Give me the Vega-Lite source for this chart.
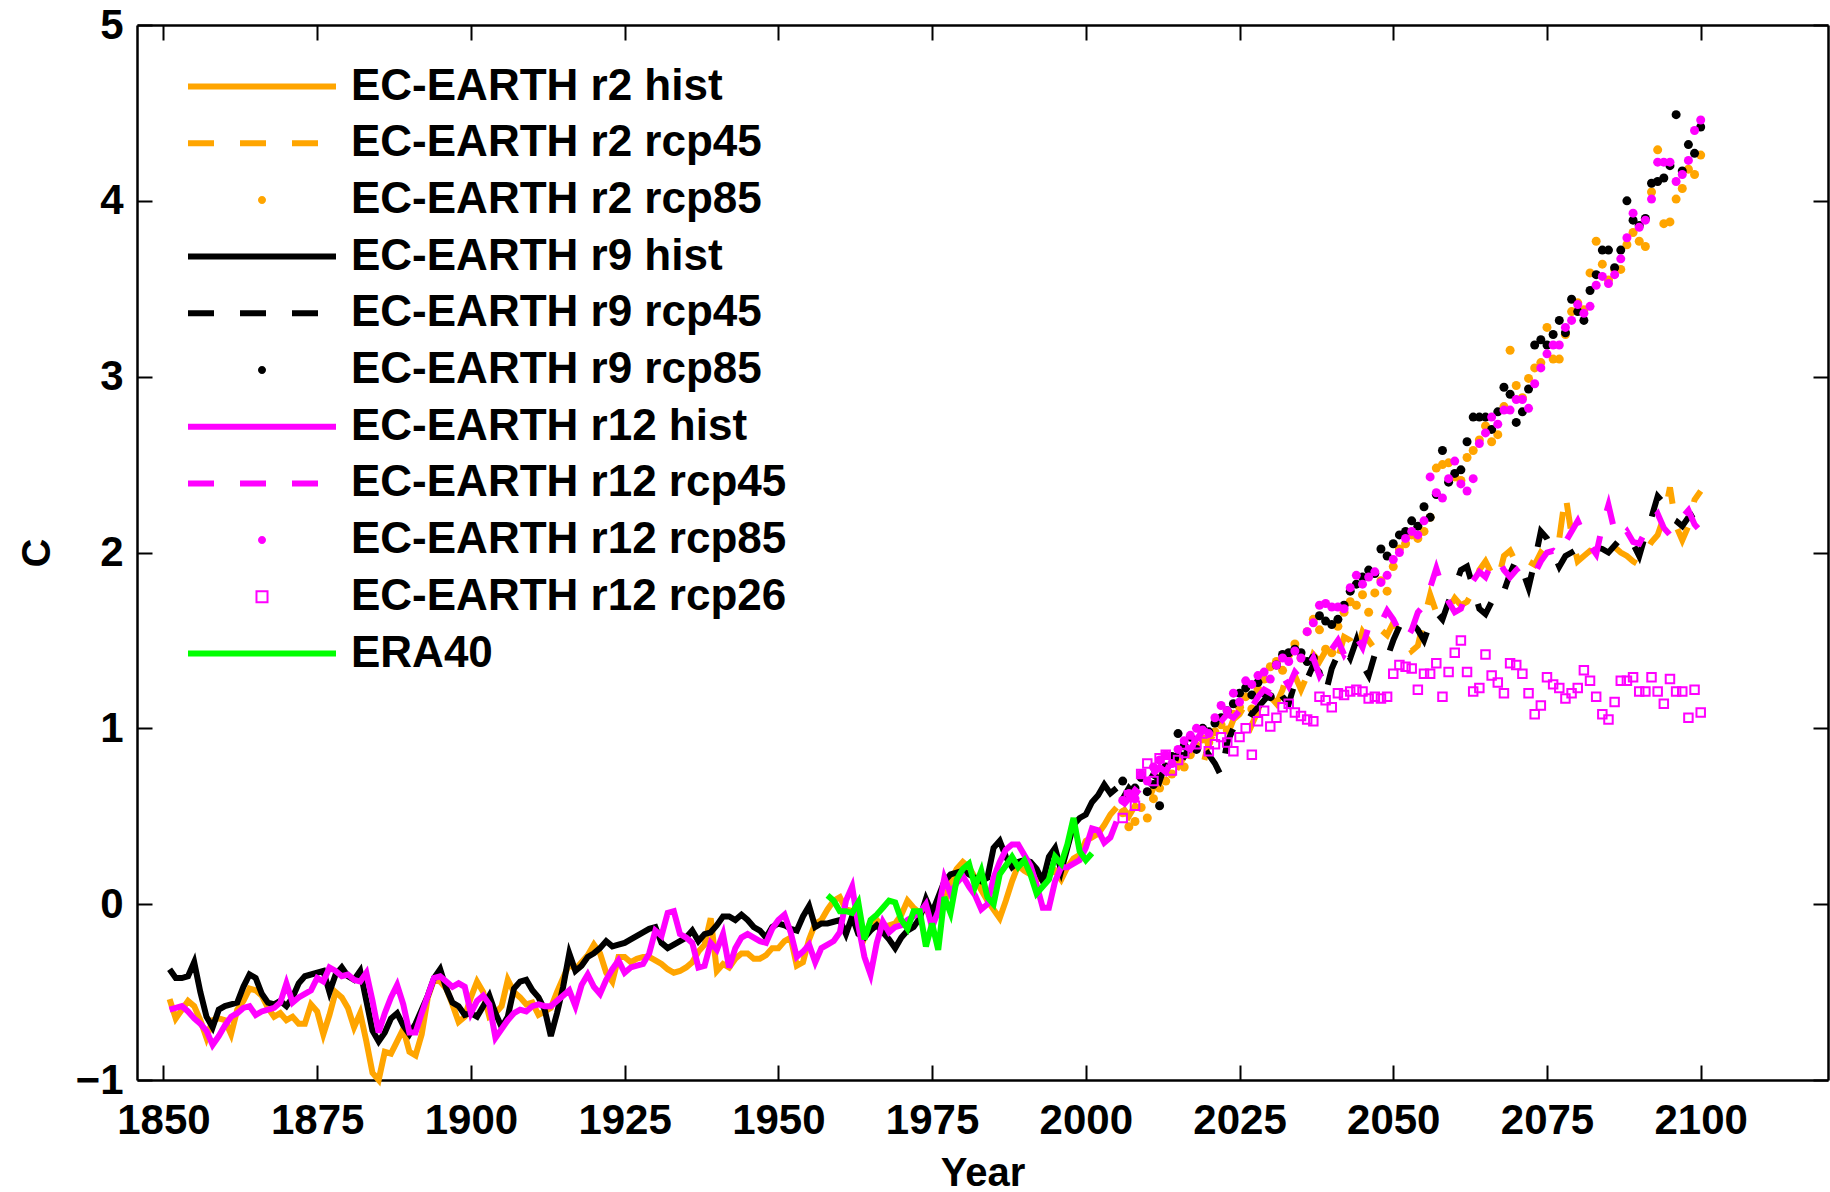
{
"$schema":"https://vega.github.io/schema/vega-lite/v6.json",
"width":1691,"height":1055,
"autosize":{"type":"none"},
"padding":{"left":137,"top":25,"right":2,"bottom":112},
"background":"white",
"config":{"view":{"stroke":null},"font":"Liberation Sans",
"axis":{"grid":false,"domainColor":"#000","domainWidth":2.5,"tickColor":"#000","tickWidth":2,"tickSize":-15,"labelFont":"Liberation Sans","labelFontSize":42,"labelFontWeight":"bold","labelColor":"#000","labelFlush":false,"labelOverlap":false,"titleFont":"Liberation Sans","titleFontSize":40,"titleFontWeight":"bold","titleColor":"#000"}},
"datasets":{
"r2hist":[{"year":1851,"c":-0.54},{"year":1852,"c":-0.65},{"year":1853,"c":-0.60},{"year":1854,"c":-0.55},{"year":1855,"c":-0.58},{"year":1856,"c":-0.66},{"year":1857,"c":-0.76},{"year":1858,"c":-0.66},{"year":1859,"c":-0.65},{"year":1860,"c":-0.66},{"year":1861,"c":-0.74},{"year":1862,"c":-0.60},{"year":1863,"c":-0.55},{"year":1864,"c":-0.48},{"year":1865,"c":-0.49},{"year":1866,"c":-0.52},{"year":1867,"c":-0.59},{"year":1868,"c":-0.64},{"year":1869,"c":-0.62},{"year":1870,"c":-0.66},{"year":1871,"c":-0.64},{"year":1872,"c":-0.68},{"year":1873,"c":-0.68},{"year":1874,"c":-0.57},{"year":1875,"c":-0.61},{"year":1876,"c":-0.74},{"year":1877,"c":-0.63},{"year":1878,"c":-0.50},{"year":1879,"c":-0.53},{"year":1880,"c":-0.59},{"year":1881,"c":-0.70},{"year":1882,"c":-0.62},{"year":1883,"c":-0.78},{"year":1884,"c":-0.96},{"year":1885,"c":-1.00},{"year":1886,"c":-0.84},{"year":1887,"c":-0.85},{"year":1888,"c":-0.78},{"year":1889,"c":-0.71},{"year":1890,"c":-0.84},{"year":1891,"c":-0.86},{"year":1892,"c":-0.74},{"year":1893,"c":-0.53},{"year":1894,"c":-0.43},{"year":1895,"c":-0.44},{"year":1896,"c":-0.48},{"year":1897,"c":-0.57},{"year":1898,"c":-0.67},{"year":1899,"c":-0.64},{"year":1900,"c":-0.53},{"year":1901,"c":-0.44},{"year":1902,"c":-0.50},{"year":1903,"c":-0.64},{"year":1904,"c":-0.62},{"year":1905,"c":-0.58},{"year":1906,"c":-0.43},{"year":1907,"c":-0.50},{"year":1908,"c":-0.53},{"year":1909,"c":-0.57},{"year":1910,"c":-0.56},{"year":1911,"c":-0.63},{"year":1912,"c":-0.61},{"year":1913,"c":-0.59},{"year":1914,"c":-0.50},{"year":1915,"c":-0.42},{"year":1916,"c":-0.34},{"year":1917,"c":-0.37},{"year":1918,"c":-0.33},{"year":1919,"c":-0.29},{"year":1920,"c":-0.23},{"year":1921,"c":-0.28},{"year":1922,"c":-0.39},{"year":1923,"c":-0.44},{"year":1924,"c":-0.30},{"year":1925,"c":-0.30},{"year":1926,"c":-0.33},{"year":1927,"c":-0.31},{"year":1928,"c":-0.30},{"year":1929,"c":-0.30},{"year":1930,"c":-0.32},{"year":1931,"c":-0.34},{"year":1932,"c":-0.37},{"year":1933,"c":-0.39},{"year":1934,"c":-0.38},{"year":1935,"c":-0.36},{"year":1936,"c":-0.33},{"year":1937,"c":-0.27},{"year":1938,"c":-0.23},{"year":1939,"c":-0.08},{"year":1940,"c":-0.38},{"year":1941,"c":-0.34},{"year":1942,"c":-0.36},{"year":1943,"c":-0.31},{"year":1944,"c":-0.28},{"year":1945,"c":-0.28},{"year":1946,"c":-0.31},{"year":1947,"c":-0.31},{"year":1948,"c":-0.29},{"year":1949,"c":-0.25},{"year":1950,"c":-0.25},{"year":1951,"c":-0.21},{"year":1952,"c":-0.19},{"year":1953,"c":-0.35},{"year":1954,"c":-0.33},{"year":1955,"c":-0.20},{"year":1956,"c":-0.11},{"year":1957,"c":-0.09},{"year":1958,"c":-0.03},{"year":1959,"c":0.02},{"year":1960,"c":0.04},{"year":1961,"c":-0.03},{"year":1962,"c":-0.04},{"year":1963,"c":-0.09},{"year":1964,"c":-0.19},{"year":1965,"c":-0.10},{"year":1966,"c":-0.09},{"year":1967,"c":-0.13},{"year":1968,"c":-0.12},{"year":1969,"c":-0.11},{"year":1970,"c":-0.06},{"year":1971,"c":0.02},{"year":1972,"c":-0.02},{"year":1973,"c":-0.05},{"year":1974,"c":-0.02},{"year":1975,"c":-0.10},{"year":1976,"c":-0.05},{"year":1977,"c":0.00},{"year":1978,"c":0.13},{"year":1979,"c":0.20},{"year":1980,"c":0.24},{"year":1981,"c":0.21},{"year":1982,"c":0.15},{"year":1983,"c":0.08},{"year":1984,"c":0.02},{"year":1985,"c":-0.03},{"year":1986,"c":-0.08},{"year":1987,"c":0.02},{"year":1988,"c":0.13},{"year":1989,"c":0.22},{"year":1990,"c":0.19},{"year":1991,"c":0.17},{"year":1992,"c":0.14},{"year":1993,"c":0.15},{"year":1994,"c":0.17},{"year":1995,"c":0.19},{"year":1996,"c":0.14},{"year":1997,"c":0.21},{"year":1998,"c":0.26},{"year":1999,"c":0.28},{"year":2000,"c":0.36},{"year":2001,"c":0.38},{"year":2002,"c":0.40},{"year":2003,"c":0.45},{"year":2004,"c":0.51},{"year":2005,"c":0.55}],
"r9hist":[{"year":1851,"c":-0.37},{"year":1852,"c":-0.42},{"year":1853,"c":-0.42},{"year":1854,"c":-0.41},{"year":1855,"c":-0.33},{"year":1856,"c":-0.50},{"year":1857,"c":-0.64},{"year":1858,"c":-0.70},{"year":1859,"c":-0.60},{"year":1860,"c":-0.58},{"year":1861,"c":-0.57},{"year":1862,"c":-0.56},{"year":1863,"c":-0.47},{"year":1864,"c":-0.40},{"year":1865,"c":-0.42},{"year":1866,"c":-0.51},{"year":1867,"c":-0.56},{"year":1868,"c":-0.57},{"year":1869,"c":-0.55},{"year":1870,"c":-0.58},{"year":1871,"c":-0.53},{"year":1872,"c":-0.45},{"year":1873,"c":-0.41},{"year":1874,"c":-0.40},{"year":1875,"c":-0.39},{"year":1876,"c":-0.38},{"year":1877,"c":-0.50},{"year":1878,"c":-0.40},{"year":1879,"c":-0.36},{"year":1880,"c":-0.41},{"year":1881,"c":-0.43},{"year":1882,"c":-0.38},{"year":1883,"c":-0.55},{"year":1884,"c":-0.72},{"year":1885,"c":-0.78},{"year":1886,"c":-0.73},{"year":1887,"c":-0.65},{"year":1888,"c":-0.62},{"year":1889,"c":-0.69},{"year":1890,"c":-0.74},{"year":1891,"c":-0.68},{"year":1892,"c":-0.60},{"year":1893,"c":-0.52},{"year":1894,"c":-0.42},{"year":1895,"c":-0.37},{"year":1896,"c":-0.48},{"year":1897,"c":-0.56},{"year":1898,"c":-0.58},{"year":1899,"c":-0.63},{"year":1900,"c":-0.62},{"year":1901,"c":-0.64},{"year":1902,"c":-0.58},{"year":1903,"c":-0.52},{"year":1904,"c":-0.62},{"year":1905,"c":-0.70},{"year":1906,"c":-0.64},{"year":1907,"c":-0.48},{"year":1908,"c":-0.44},{"year":1909,"c":-0.43},{"year":1910,"c":-0.49},{"year":1911,"c":-0.53},{"year":1912,"c":-0.60},{"year":1913,"c":-0.75},{"year":1914,"c":-0.62},{"year":1915,"c":-0.47},{"year":1916,"c":-0.28},{"year":1917,"c":-0.38},{"year":1918,"c":-0.35},{"year":1919,"c":-0.30},{"year":1920,"c":-0.28},{"year":1921,"c":-0.25},{"year":1922,"c":-0.21},{"year":1923,"c":-0.24},{"year":1924,"c":-0.23},{"year":1925,"c":-0.22},{"year":1926,"c":-0.20},{"year":1927,"c":-0.18},{"year":1928,"c":-0.16},{"year":1929,"c":-0.14},{"year":1930,"c":-0.13},{"year":1931,"c":-0.22},{"year":1932,"c":-0.25},{"year":1933,"c":-0.23},{"year":1934,"c":-0.21},{"year":1935,"c":-0.19},{"year":1936,"c":-0.15},{"year":1937,"c":-0.21},{"year":1938,"c":-0.17},{"year":1939,"c":-0.16},{"year":1940,"c":-0.12},{"year":1941,"c":-0.07},{"year":1942,"c":-0.07},{"year":1943,"c":-0.09},{"year":1944,"c":-0.06},{"year":1945,"c":-0.09},{"year":1946,"c":-0.13},{"year":1947,"c":-0.15},{"year":1948,"c":-0.19},{"year":1949,"c":-0.13},{"year":1950,"c":-0.11},{"year":1951,"c":-0.12},{"year":1952,"c":-0.14},{"year":1953,"c":-0.15},{"year":1954,"c":-0.07},{"year":1955,"c":-0.01},{"year":1956,"c":-0.13},{"year":1957,"c":-0.11},{"year":1958,"c":-0.11},{"year":1959,"c":-0.10},{"year":1960,"c":-0.09},{"year":1961,"c":-0.17},{"year":1962,"c":-0.07},{"year":1963,"c":-0.17},{"year":1964,"c":-0.19},{"year":1965,"c":-0.15},{"year":1966,"c":-0.12},{"year":1967,"c":-0.16},{"year":1968,"c":-0.20},{"year":1969,"c":-0.25},{"year":1970,"c":-0.19},{"year":1971,"c":-0.15},{"year":1972,"c":-0.13},{"year":1973,"c":-0.08},{"year":1974,"c":0.03},{"year":1975,"c":-0.05},{"year":1976,"c":0.04},{"year":1977,"c":0.13},{"year":1978,"c":0.17},{"year":1979,"c":0.18},{"year":1980,"c":0.19},{"year":1981,"c":0.17},{"year":1982,"c":0.15},{"year":1983,"c":0.13},{"year":1984,"c":0.15},{"year":1985,"c":0.32},{"year":1986,"c":0.36},{"year":1987,"c":0.27},{"year":1988,"c":0.21},{"year":1989,"c":0.24},{"year":1990,"c":0.25},{"year":1991,"c":0.24},{"year":1992,"c":0.20},{"year":1993,"c":0.13},{"year":1994,"c":0.27},{"year":1995,"c":0.32},{"year":1996,"c":0.19},{"year":1997,"c":0.32},{"year":1998,"c":0.45},{"year":1999,"c":0.49},{"year":2000,"c":0.51},{"year":2001,"c":0.58},{"year":2002,"c":0.62},{"year":2003,"c":0.68},{"year":2004,"c":0.63},{"year":2005,"c":0.66}],
"r12hist":[{"year":1851,"c":-0.60},{"year":1852,"c":-0.59},{"year":1853,"c":-0.58},{"year":1854,"c":-0.61},{"year":1855,"c":-0.65},{"year":1856,"c":-0.68},{"year":1857,"c":-0.72},{"year":1858,"c":-0.80},{"year":1859,"c":-0.75},{"year":1860,"c":-0.69},{"year":1861,"c":-0.64},{"year":1862,"c":-0.62},{"year":1863,"c":-0.59},{"year":1864,"c":-0.58},{"year":1865,"c":-0.63},{"year":1866,"c":-0.61},{"year":1867,"c":-0.60},{"year":1868,"c":-0.59},{"year":1869,"c":-0.56},{"year":1870,"c":-0.45},{"year":1871,"c":-0.56},{"year":1872,"c":-0.53},{"year":1873,"c":-0.51},{"year":1874,"c":-0.49},{"year":1875,"c":-0.42},{"year":1876,"c":-0.44},{"year":1877,"c":-0.36},{"year":1878,"c":-0.38},{"year":1879,"c":-0.41},{"year":1880,"c":-0.40},{"year":1881,"c":-0.43},{"year":1882,"c":-0.44},{"year":1883,"c":-0.39},{"year":1884,"c":-0.55},{"year":1885,"c":-0.73},{"year":1886,"c":-0.62},{"year":1887,"c":-0.53},{"year":1888,"c":-0.46},{"year":1889,"c":-0.57},{"year":1890,"c":-0.73},{"year":1891,"c":-0.73},{"year":1892,"c":-0.62},{"year":1893,"c":-0.52},{"year":1894,"c":-0.42},{"year":1895,"c":-0.41},{"year":1896,"c":-0.44},{"year":1897,"c":-0.47},{"year":1898,"c":-0.45},{"year":1899,"c":-0.47},{"year":1900,"c":-0.62},{"year":1901,"c":-0.55},{"year":1902,"c":-0.52},{"year":1903,"c":-0.57},{"year":1904,"c":-0.76},{"year":1905,"c":-0.71},{"year":1906,"c":-0.66},{"year":1907,"c":-0.62},{"year":1908,"c":-0.60},{"year":1909,"c":-0.61},{"year":1910,"c":-0.58},{"year":1911,"c":-0.57},{"year":1912,"c":-0.58},{"year":1913,"c":-0.58},{"year":1914,"c":-0.55},{"year":1915,"c":-0.52},{"year":1916,"c":-0.49},{"year":1917,"c":-0.58},{"year":1918,"c":-0.46},{"year":1919,"c":-0.40},{"year":1920,"c":-0.47},{"year":1921,"c":-0.51},{"year":1922,"c":-0.43},{"year":1923,"c":-0.37},{"year":1924,"c":-0.32},{"year":1925,"c":-0.39},{"year":1926,"c":-0.36},{"year":1927,"c":-0.35},{"year":1928,"c":-0.34},{"year":1929,"c":-0.28},{"year":1930,"c":-0.15},{"year":1931,"c":-0.18},{"year":1932,"c":-0.05},{"year":1933,"c":-0.04},{"year":1934,"c":-0.17},{"year":1935,"c":-0.19},{"year":1936,"c":-0.22},{"year":1937,"c":-0.36},{"year":1938,"c":-0.35},{"year":1939,"c":-0.22},{"year":1940,"c":-0.26},{"year":1941,"c":-0.17},{"year":1942,"c":-0.36},{"year":1943,"c":-0.25},{"year":1944,"c":-0.19},{"year":1945,"c":-0.17},{"year":1946,"c":-0.19},{"year":1947,"c":-0.21},{"year":1948,"c":-0.22},{"year":1949,"c":-0.14},{"year":1950,"c":-0.09},{"year":1951,"c":-0.06},{"year":1952,"c":-0.16},{"year":1953,"c":-0.30},{"year":1954,"c":-0.27},{"year":1955,"c":-0.23},{"year":1956,"c":-0.33},{"year":1957,"c":-0.25},{"year":1958,"c":-0.23},{"year":1959,"c":-0.21},{"year":1960,"c":-0.16},{"year":1961,"c":0.02},{"year":1962,"c":0.10},{"year":1963,"c":-0.12},{"year":1964,"c":-0.30},{"year":1965,"c":-0.40},{"year":1966,"c":-0.22},{"year":1967,"c":-0.10},{"year":1968,"c":-0.16},{"year":1969,"c":-0.13},{"year":1970,"c":-0.12},{"year":1971,"c":-0.09},{"year":1972,"c":-0.07},{"year":1973,"c":-0.05},{"year":1974,"c":0.00},{"year":1975,"c":-0.13},{"year":1976,"c":-0.04},{"year":1977,"c":0.15},{"year":1978,"c":0.06},{"year":1979,"c":0.12},{"year":1980,"c":0.16},{"year":1981,"c":0.10},{"year":1982,"c":0.05},{"year":1983,"c":-0.03},{"year":1984,"c":0.00},{"year":1985,"c":0.15},{"year":1986,"c":0.24},{"year":1987,"c":0.31},{"year":1988,"c":0.34},{"year":1989,"c":0.34},{"year":1990,"c":0.28},{"year":1991,"c":0.22},{"year":1992,"c":0.11},{"year":1993,"c":-0.02},{"year":1994,"c":-0.02},{"year":1995,"c":0.13},{"year":1996,"c":0.21},{"year":1997,"c":0.21},{"year":1998,"c":0.23},{"year":1999,"c":0.25},{"year":2000,"c":0.32},{"year":2001,"c":0.43},{"year":2002,"c":0.42},{"year":2003,"c":0.35},{"year":2004,"c":0.38},{"year":2005,"c":0.47}],
"era40":[{"year":1958,"c":0.05},{"year":1959,"c":0.02},{"year":1960,"c":-0.04},{"year":1961,"c":-0.04},{"year":1962,"c":-0.05},{"year":1963,"c":0.01},{"year":1964,"c":-0.20},{"year":1965,"c":-0.09},{"year":1966,"c":-0.06},{"year":1967,"c":-0.02},{"year":1968,"c":0.02},{"year":1969,"c":0.01},{"year":1970,"c":-0.09},{"year":1971,"c":-0.14},{"year":1972,"c":-0.04},{"year":1973,"c":-0.04},{"year":1974,"c":-0.24},{"year":1975,"c":-0.11},{"year":1976,"c":-0.26},{"year":1977,"c":0.04},{"year":1978,"c":-0.05},{"year":1979,"c":0.14},{"year":1980,"c":0.20},{"year":1981,"c":0.23},{"year":1982,"c":0.10},{"year":1983,"c":0.19},{"year":1984,"c":0.04},{"year":1985,"c":0.00},{"year":1986,"c":0.17},{"year":1987,"c":0.22},{"year":1988,"c":0.27},{"year":1989,"c":0.21},{"year":1990,"c":0.25},{"year":1991,"c":0.17},{"year":1992,"c":0.06},{"year":1993,"c":0.10},{"year":1994,"c":0.14},{"year":1995,"c":0.27},{"year":1996,"c":0.23},{"year":1997,"c":0.34},{"year":1998,"c":0.49},{"year":1999,"c":0.30},{"year":2000,"c":0.25},{"year":2001,"c":0.29}],
"r2rcp45":[{"year":2006,"c":0.55},{"year":2007,"c":0.50},{"year":2008,"c":0.56},{"year":2009,"c":0.62},{"year":2010,"c":0.58},{"year":2011,"c":0.66},{"year":2012,"c":0.72},{"year":2013,"c":0.70},{"year":2014,"c":0.80},{"year":2015,"c":0.78},{"year":2016,"c":0.84},{"year":2017,"c":0.88},{"year":2018,"c":0.80},{"year":2019,"c":0.78},{"year":2020,"c":0.92},{"year":2021,"c":0.98},{"year":2022,"c":1.00},{"year":2023,"c":0.96},{"year":2024,"c":1.05},{"year":2025,"c":1.08},{"year":2026,"c":1.14},{"year":2027,"c":1.02},{"year":2028,"c":1.10},{"year":2029,"c":1.22},{"year":2030,"c":1.18},{"year":2031,"c":1.14},{"year":2032,"c":1.22},{"year":2033,"c":1.34},{"year":2034,"c":1.30},{"year":2035,"c":1.22},{"year":2036,"c":1.30},{"year":2037,"c":1.42},{"year":2038,"c":1.38},{"year":2039,"c":1.44},{"year":2040,"c":1.48},{"year":2041,"c":1.40},{"year":2042,"c":1.52},{"year":2043,"c":1.50},{"year":2044,"c":1.43},{"year":2045,"c":1.55},{"year":2046,"c":1.50},{"year":2047,"c":1.45},{"year":2048,"c":1.56},{"year":2049,"c":1.53},{"year":2050,"c":1.60},{"year":2051,"c":1.55},{"year":2052,"c":1.50},{"year":2053,"c":1.44},{"year":2054,"c":1.47},{"year":2055,"c":1.62},{"year":2056,"c":1.76},{"year":2057,"c":1.66},{"year":2058,"c":1.70},{"year":2059,"c":1.68},{"year":2060,"c":1.74},{"year":2061,"c":1.70},{"year":2062,"c":1.72},{"year":2063,"c":1.78},{"year":2064,"c":1.90},{"year":2065,"c":1.95},{"year":2066,"c":1.88},{"year":2067,"c":1.84},{"year":2068,"c":1.98},{"year":2069,"c":2.01},{"year":2070,"c":1.94},{"year":2071,"c":1.98},{"year":2072,"c":1.95},{"year":2073,"c":1.93},{"year":2074,"c":2.00},{"year":2075,"c":1.97},{"year":2076,"c":2.05},{"year":2077,"c":2.08},{"year":2078,"c":2.33},{"year":2079,"c":2.10},{"year":2080,"c":1.95},{"year":2081,"c":1.98},{"year":2082,"c":2.01},{"year":2083,"c":2.00},{"year":2084,"c":2.02},{"year":2085,"c":2.04},{"year":2086,"c":2.03},{"year":2087,"c":2.00},{"year":2088,"c":1.98},{"year":2089,"c":1.95},{"year":2090,"c":1.93},{"year":2091,"c":2.00},{"year":2092,"c":2.06},{"year":2093,"c":2.10},{"year":2094,"c":2.20},{"year":2095,"c":2.37},{"year":2096,"c":2.15},{"year":2097,"c":2.07},{"year":2098,"c":2.15},{"year":2099,"c":2.30},{"year":2100,"c":2.35}],
"r9rcp45":[{"year":2006,"c":0.60},{"year":2007,"c":0.66},{"year":2008,"c":0.62},{"year":2009,"c":0.70},{"year":2010,"c":0.68},{"year":2011,"c":0.74},{"year":2012,"c":0.70},{"year":2013,"c":0.80},{"year":2014,"c":0.76},{"year":2015,"c":0.86},{"year":2016,"c":0.84},{"year":2017,"c":0.90},{"year":2018,"c":0.94},{"year":2019,"c":0.90},{"year":2020,"c":0.85},{"year":2021,"c":0.80},{"year":2022,"c":0.73},{"year":2023,"c":0.92},{"year":2024,"c":1.00},{"year":2025,"c":1.06},{"year":2026,"c":1.10},{"year":2027,"c":1.08},{"year":2028,"c":1.12},{"year":2029,"c":1.16},{"year":2030,"c":1.20},{"year":2031,"c":1.24},{"year":2032,"c":1.18},{"year":2033,"c":1.14},{"year":2034,"c":1.26},{"year":2035,"c":1.30},{"year":2036,"c":1.28},{"year":2037,"c":1.36},{"year":2038,"c":1.32},{"year":2039,"c":1.20},{"year":2040,"c":1.34},{"year":2041,"c":1.42},{"year":2042,"c":1.46},{"year":2043,"c":1.40},{"year":2044,"c":1.50},{"year":2045,"c":1.36},{"year":2046,"c":1.30},{"year":2047,"c":1.42},{"year":2048,"c":1.44},{"year":2049,"c":1.40},{"year":2050,"c":1.50},{"year":2051,"c":1.58},{"year":2052,"c":1.64},{"year":2053,"c":1.60},{"year":2054,"c":1.56},{"year":2055,"c":1.50},{"year":2056,"c":1.60},{"year":2057,"c":1.66},{"year":2058,"c":1.62},{"year":2059,"c":1.72},{"year":2060,"c":1.80},{"year":2061,"c":1.90},{"year":2062,"c":1.92},{"year":2063,"c":1.80},{"year":2064,"c":1.68},{"year":2065,"c":1.65},{"year":2066,"c":1.72},{"year":2067,"c":1.70},{"year":2068,"c":1.78},{"year":2069,"c":1.88},{"year":2070,"c":1.96},{"year":2071,"c":1.90},{"year":2072,"c":1.80},{"year":2073,"c":1.95},{"year":2074,"c":2.12},{"year":2075,"c":2.08},{"year":2076,"c":2.00},{"year":2077,"c":1.92},{"year":2078,"c":1.98},{"year":2079,"c":2.00},{"year":2080,"c":2.02},{"year":2081,"c":2.04},{"year":2082,"c":2.05},{"year":2083,"c":2.03},{"year":2084,"c":2.02},{"year":2085,"c":2.00},{"year":2086,"c":2.04},{"year":2087,"c":2.08},{"year":2088,"c":2.10},{"year":2089,"c":2.05},{"year":2090,"c":1.98},{"year":2091,"c":2.10},{"year":2092,"c":2.20},{"year":2093,"c":2.32},{"year":2094,"c":2.28},{"year":2095,"c":2.20},{"year":2096,"c":2.18},{"year":2097,"c":2.15},{"year":2098,"c":2.20},{"year":2099,"c":2.22},{"year":2100,"c":2.24}],
"r12rcp45":[{"year":2006,"c":0.56},{"year":2007,"c":0.60},{"year":2008,"c":0.65},{"year":2009,"c":0.62},{"year":2010,"c":0.70},{"year":2011,"c":0.74},{"year":2012,"c":0.78},{"year":2013,"c":0.75},{"year":2014,"c":0.82},{"year":2015,"c":0.86},{"year":2016,"c":0.90},{"year":2017,"c":0.88},{"year":2018,"c":0.94},{"year":2019,"c":0.98},{"year":2020,"c":1.02},{"year":2021,"c":1.00},{"year":2022,"c":1.04},{"year":2023,"c":1.08},{"year":2024,"c":1.06},{"year":2025,"c":1.10},{"year":2026,"c":1.16},{"year":2027,"c":1.12},{"year":2028,"c":1.18},{"year":2029,"c":1.22},{"year":2030,"c":1.20},{"year":2031,"c":1.26},{"year":2032,"c":1.30},{"year":2033,"c":1.24},{"year":2034,"c":1.32},{"year":2035,"c":1.28},{"year":2036,"c":1.34},{"year":2037,"c":1.40},{"year":2038,"c":1.30},{"year":2039,"c":1.36},{"year":2040,"c":1.45},{"year":2041,"c":1.50},{"year":2042,"c":1.42},{"year":2043,"c":1.48},{"year":2044,"c":1.52},{"year":2045,"c":1.46},{"year":2046,"c":1.58},{"year":2047,"c":1.62},{"year":2048,"c":1.60},{"year":2049,"c":1.67},{"year":2050,"c":1.62},{"year":2051,"c":1.55},{"year":2052,"c":1.50},{"year":2053,"c":1.56},{"year":2054,"c":1.66},{"year":2055,"c":1.70},{"year":2056,"c":1.80},{"year":2057,"c":1.91},{"year":2058,"c":1.80},{"year":2059,"c":1.72},{"year":2060,"c":1.66},{"year":2061,"c":1.68},{"year":2062,"c":1.78},{"year":2063,"c":1.84},{"year":2064,"c":1.89},{"year":2065,"c":1.86},{"year":2066,"c":1.94},{"year":2067,"c":1.97},{"year":2068,"c":1.90},{"year":2069,"c":1.86},{"year":2070,"c":1.90},{"year":2071,"c":1.93},{"year":2072,"c":1.92},{"year":2073,"c":1.88},{"year":2074,"c":1.95},{"year":2075,"c":2.00},{"year":2076,"c":2.01},{"year":2077,"c":1.98},{"year":2078,"c":2.06},{"year":2079,"c":2.12},{"year":2080,"c":2.18},{"year":2081,"c":2.10},{"year":2082,"c":2.04},{"year":2083,"c":1.99},{"year":2084,"c":2.15},{"year":2085,"c":2.27},{"year":2086,"c":2.12},{"year":2087,"c":2.08},{"year":2088,"c":2.12},{"year":2089,"c":2.06},{"year":2090,"c":2.05},{"year":2091,"c":2.12},{"year":2092,"c":2.18},{"year":2093,"c":2.22},{"year":2094,"c":2.14},{"year":2095,"c":2.10},{"year":2096,"c":2.15},{"year":2097,"c":2.20},{"year":2098,"c":2.24},{"year":2099,"c":2.16},{"year":2100,"c":2.12}],
"r2rcp85":[{"year":2006,"c":0.52},{"year":2007,"c":0.44},{"year":2008,"c":0.47},{"year":2009,"c":0.55},{"year":2010,"c":0.49},{"year":2011,"c":0.60},{"year":2012,"c":0.66},{"year":2013,"c":0.70},{"year":2014,"c":0.74},{"year":2015,"c":0.80},{"year":2016,"c":0.78},{"year":2017,"c":0.85},{"year":2018,"c":0.90},{"year":2019,"c":0.94},{"year":2020,"c":0.92},{"year":2021,"c":0.98},{"year":2022,"c":1.02},{"year":2023,"c":0.99},{"year":2024,"c":1.08},{"year":2025,"c":1.12},{"year":2026,"c":1.18},{"year":2027,"c":1.11},{"year":2028,"c":1.22},{"year":2029,"c":1.28},{"year":2030,"c":1.35},{"year":2031,"c":1.38},{"year":2032,"c":1.33},{"year":2033,"c":1.42},{"year":2034,"c":1.48},{"year":2035,"c":1.40},{"year":2036,"c":1.55},{"year":2037,"c":1.62},{"year":2038,"c":1.56},{"year":2039,"c":1.45},{"year":2040,"c":1.43},{"year":2041,"c":1.58},{"year":2042,"c":1.66},{"year":2043,"c":1.72},{"year":2044,"c":1.70},{"year":2045,"c":1.76},{"year":2046,"c":1.66},{"year":2047,"c":1.77},{"year":2048,"c":1.84},{"year":2049,"c":1.78},{"year":2050,"c":1.92},{"year":2051,"c":2.02},{"year":2052,"c":2.05},{"year":2053,"c":2.10},{"year":2054,"c":2.08},{"year":2055,"c":2.12},{"year":2056,"c":2.20},{"year":2057,"c":2.48},{"year":2058,"c":2.50},{"year":2059,"c":2.51},{"year":2060,"c":2.43},{"year":2061,"c":2.41},{"year":2062,"c":2.54},{"year":2063,"c":2.58},{"year":2064,"c":2.64},{"year":2065,"c":2.72},{"year":2066,"c":2.63},{"year":2067,"c":2.67},{"year":2068,"c":2.83},{"year":2069,"c":3.15},{"year":2070,"c":2.95},{"year":2071,"c":2.88},{"year":2072,"c":2.99},{"year":2073,"c":3.05},{"year":2074,"c":3.08},{"year":2075,"c":3.28},{"year":2076,"c":3.10},{"year":2077,"c":3.10},{"year":2078,"c":3.24},{"year":2079,"c":3.37},{"year":2080,"c":3.42},{"year":2081,"c":3.38},{"year":2082,"c":3.59},{"year":2083,"c":3.77},{"year":2084,"c":3.64},{"year":2085,"c":3.55},{"year":2086,"c":3.61},{"year":2087,"c":3.61},{"year":2088,"c":3.75},{"year":2089,"c":3.82},{"year":2090,"c":3.77},{"year":2091,"c":3.74},{"year":2092,"c":4.05},{"year":2093,"c":4.29},{"year":2094,"c":3.87},{"year":2095,"c":3.88},{"year":2096,"c":4.01},{"year":2097,"c":4.07},{"year":2098,"c":4.18},{"year":2099,"c":4.15},{"year":2100,"c":4.26}],
"r9rcp85":[{"year":2006,"c":0.70},{"year":2007,"c":0.62},{"year":2008,"c":0.66},{"year":2009,"c":0.72},{"year":2010,"c":0.64},{"year":2011,"c":0.68},{"year":2012,"c":0.56},{"year":2013,"c":0.78},{"year":2014,"c":0.84},{"year":2015,"c":0.97},{"year":2016,"c":0.90},{"year":2017,"c":0.95},{"year":2018,"c":0.88},{"year":2019,"c":1.00},{"year":2020,"c":0.98},{"year":2021,"c":1.03},{"year":2022,"c":1.06},{"year":2023,"c":1.10},{"year":2024,"c":1.14},{"year":2025,"c":1.20},{"year":2026,"c":1.23},{"year":2027,"c":1.19},{"year":2028,"c":1.26},{"year":2029,"c":1.20},{"year":2030,"c":1.18},{"year":2031,"c":1.36},{"year":2032,"c":1.42},{"year":2033,"c":1.43},{"year":2034,"c":1.45},{"year":2035,"c":1.43},{"year":2036,"c":1.38},{"year":2037,"c":1.40},{"year":2038,"c":1.64},{"year":2039,"c":1.61},{"year":2040,"c":1.59},{"year":2041,"c":1.62},{"year":2042,"c":1.70},{"year":2043,"c":1.78},{"year":2044,"c":1.82},{"year":2045,"c":1.86},{"year":2046,"c":1.90},{"year":2047,"c":1.88},{"year":2048,"c":2.02},{"year":2049,"c":1.98},{"year":2050,"c":2.05},{"year":2051,"c":2.10},{"year":2052,"c":2.12},{"year":2053,"c":2.18},{"year":2054,"c":2.15},{"year":2055,"c":2.26},{"year":2056,"c":2.20},{"year":2057,"c":2.33},{"year":2058,"c":2.58},{"year":2059,"c":2.40},{"year":2060,"c":2.45},{"year":2061,"c":2.47},{"year":2062,"c":2.63},{"year":2063,"c":2.77},{"year":2064,"c":2.77},{"year":2065,"c":2.77},{"year":2066,"c":2.70},{"year":2067,"c":2.80},{"year":2068,"c":2.94},{"year":2069,"c":2.90},{"year":2070,"c":2.74},{"year":2071,"c":2.80},{"year":2072,"c":2.93},{"year":2073,"c":3.18},{"year":2074,"c":3.21},{"year":2075,"c":3.18},{"year":2076,"c":3.24},{"year":2077,"c":3.32},{"year":2078,"c":3.25},{"year":2079,"c":3.44},{"year":2080,"c":3.37},{"year":2081,"c":3.32},{"year":2082,"c":3.49},{"year":2083,"c":3.58},{"year":2084,"c":3.72},{"year":2085,"c":3.72},{"year":2086,"c":3.62},{"year":2087,"c":3.72},{"year":2088,"c":4.00},{"year":2089,"c":3.89},{"year":2090,"c":3.86},{"year":2091,"c":3.90},{"year":2092,"c":4.10},{"year":2093,"c":4.11},{"year":2094,"c":4.13},{"year":2095,"c":4.20},{"year":2096,"c":4.49},{"year":2097,"c":4.17},{"year":2098,"c":4.32},{"year":2099,"c":4.27},{"year":2100,"c":4.42}],
"r12rcp85":[{"year":2006,"c":0.59},{"year":2007,"c":0.63},{"year":2008,"c":0.60},{"year":2009,"c":0.74},{"year":2010,"c":0.70},{"year":2011,"c":0.78},{"year":2012,"c":0.82},{"year":2013,"c":0.85},{"year":2014,"c":0.80},{"year":2015,"c":0.88},{"year":2016,"c":0.93},{"year":2017,"c":0.96},{"year":2018,"c":1.00},{"year":2019,"c":0.99},{"year":2020,"c":0.97},{"year":2021,"c":1.06},{"year":2022,"c":1.13},{"year":2023,"c":1.10},{"year":2024,"c":1.20},{"year":2025,"c":1.15},{"year":2026,"c":1.27},{"year":2027,"c":1.25},{"year":2028,"c":1.30},{"year":2029,"c":1.32},{"year":2030,"c":1.28},{"year":2031,"c":1.36},{"year":2032,"c":1.40},{"year":2033,"c":1.38},{"year":2034,"c":1.44},{"year":2035,"c":1.40},{"year":2036,"c":1.55},{"year":2037,"c":1.60},{"year":2038,"c":1.70},{"year":2039,"c":1.71},{"year":2040,"c":1.69},{"year":2041,"c":1.69},{"year":2042,"c":1.68},{"year":2043,"c":1.80},{"year":2044,"c":1.87},{"year":2045,"c":1.82},{"year":2046,"c":1.86},{"year":2047,"c":1.89},{"year":2048,"c":1.83},{"year":2049,"c":1.87},{"year":2050,"c":1.96},{"year":2051,"c":2.00},{"year":2052,"c":2.08},{"year":2053,"c":2.12},{"year":2054,"c":2.10},{"year":2055,"c":2.18},{"year":2056,"c":2.43},{"year":2057,"c":2.34},{"year":2058,"c":2.31},{"year":2059,"c":2.42},{"year":2060,"c":2.52},{"year":2061,"c":2.39},{"year":2062,"c":2.35},{"year":2063,"c":2.42},{"year":2064,"c":2.62},{"year":2065,"c":2.68},{"year":2066,"c":2.77},{"year":2067,"c":2.73},{"year":2068,"c":2.81},{"year":2069,"c":2.81},{"year":2070,"c":2.87},{"year":2071,"c":2.87},{"year":2072,"c":2.82},{"year":2073,"c":2.96},{"year":2074,"c":3.05},{"year":2075,"c":3.13},{"year":2076,"c":3.18},{"year":2077,"c":3.18},{"year":2078,"c":3.28},{"year":2079,"c":3.32},{"year":2080,"c":3.41},{"year":2081,"c":3.36},{"year":2082,"c":3.40},{"year":2083,"c":3.52},{"year":2084,"c":3.57},{"year":2085,"c":3.53},{"year":2086,"c":3.58},{"year":2087,"c":3.67},{"year":2088,"c":3.79},{"year":2089,"c":3.93},{"year":2090,"c":3.85},{"year":2091,"c":3.89},{"year":2092,"c":4.01},{"year":2093,"c":4.22},{"year":2094,"c":4.22},{"year":2095,"c":4.22},{"year":2096,"c":4.11},{"year":2097,"c":4.15},{"year":2098,"c":4.23},{"year":2099,"c":4.40},{"year":2100,"c":4.46}],
"r12rcp26":[{"year":2006,"c":0.49},{"year":2007,"c":0.62},{"year":2008,"c":0.56},{"year":2009,"c":0.74},{"year":2010,"c":0.80},{"year":2011,"c":0.70},{"year":2012,"c":0.83},{"year":2013,"c":0.85},{"year":2014,"c":0.76},{"year":2015,"c":0.82},{"year":2016,"c":0.86},{"year":2017,"c":0.92},{"year":2018,"c":0.91},{"year":2019,"c":0.97},{"year":2020,"c":0.87},{"year":2021,"c":0.91},{"year":2022,"c":0.95},{"year":2023,"c":0.92},{"year":2024,"c":0.87},{"year":2025,"c":0.95},{"year":2026,"c":1.00},{"year":2027,"c":0.85},{"year":2028,"c":1.04},{"year":2029,"c":1.10},{"year":2030,"c":1.01},{"year":2031,"c":1.06},{"year":2032,"c":1.12},{"year":2033,"c":1.14},{"year":2034,"c":1.09},{"year":2035,"c":1.07},{"year":2036,"c":1.05},{"year":2037,"c":1.04},{"year":2038,"c":1.18},{"year":2039,"c":1.16},{"year":2040,"c":1.12},{"year":2041,"c":1.20},{"year":2042,"c":1.19},{"year":2043,"c":1.21},{"year":2044,"c":1.22},{"year":2045,"c":1.21},{"year":2046,"c":1.17},{"year":2047,"c":1.18},{"year":2048,"c":1.17},{"year":2049,"c":1.18},{"year":2050,"c":1.31},{"year":2051,"c":1.36},{"year":2052,"c":1.35},{"year":2053,"c":1.34},{"year":2054,"c":1.22},{"year":2055,"c":1.31},{"year":2056,"c":1.31},{"year":2057,"c":1.37},{"year":2058,"c":1.18},{"year":2059,"c":1.32},{"year":2060,"c":1.43},{"year":2061,"c":1.50},{"year":2062,"c":1.32},{"year":2063,"c":1.21},{"year":2064,"c":1.23},{"year":2065,"c":1.42},{"year":2066,"c":1.30},{"year":2067,"c":1.26},{"year":2068,"c":1.20},{"year":2069,"c":1.37},{"year":2070,"c":1.36},{"year":2071,"c":1.31},{"year":2072,"c":1.20},{"year":2073,"c":1.08},{"year":2074,"c":1.13},{"year":2075,"c":1.29},{"year":2076,"c":1.25},{"year":2077,"c":1.23},{"year":2078,"c":1.17},{"year":2079,"c":1.20},{"year":2080,"c":1.23},{"year":2081,"c":1.33},{"year":2082,"c":1.27},{"year":2083,"c":1.18},{"year":2084,"c":1.08},{"year":2085,"c":1.05},{"year":2086,"c":1.15},{"year":2087,"c":1.27},{"year":2088,"c":1.27},{"year":2089,"c":1.29},{"year":2090,"c":1.21},{"year":2091,"c":1.21},{"year":2092,"c":1.29},{"year":2093,"c":1.21},{"year":2094,"c":1.14},{"year":2095,"c":1.28},{"year":2096,"c":1.21},{"year":2097,"c":1.21},{"year":2098,"c":1.06},{"year":2099,"c":1.22},{"year":2100,"c":1.09}]
},
"encoding":{
"x":{"field":"year","type":"quantitative","scale":{"domain":[1845.7,2120.7],"nice":false,"zero":false},"axis":null},
"y":{"field":"c","type":"quantitative","scale":{"domain":[-1,5],"nice":false,"zero":false},"axis":null}
},
"layer":[
{"data":{"name":"r2hist"},"mark":{"type":"line","strokeWidth":6},
"encoding":{
"x":{"field":"year","type":"quantitative","axis":{"orient":"bottom","values":[1850,1875,1900,1925,1950,1975,2000,2025,2050,2075,2100],"format":"d","title":"Year","labelPadding":35,"titleY":105,"titleBaseline":"alphabetic"}},
"y":{"field":"c","type":"quantitative","axis":{"orient":"left","values":[-1,0,1,2,3,4,5],"format":"d","title":"C","labelPadding":29,"titleX":-88,"titleBaseline":"alphabetic"}},
"color":{"datum":"EC-EARTH r2 hist","type":"nominal",
"scale":{"domain":["EC-EARTH r2 hist","EC-EARTH r2 rcp45","EC-EARTH r2 rcp85","EC-EARTH r9 hist","EC-EARTH r9 rcp45","EC-EARTH r9 rcp85","EC-EARTH r12 hist","EC-EARTH r12 rcp45","EC-EARTH r12 rcp85","EC-EARTH r12 rcp26","ERA40"],
"range":["#FFA500","#FFA500","#FFA500","#000000","#000000","#000000","#FF00FF","#FF00FF","#FF00FF","#FF00FF","#00FF00"]},
"legend":{"title":null,"orient":"none","legendX":48,"legendY":36.5,"columns":1,"padding":0,"rowPadding":6.7,"clipHeight":50,"symbolType":"stroke","symbolSize":21904,"symbolStrokeWidth":6,"symbolOffset":0,"labelOffset":12,"labelFont":"Liberation Sans","labelFontSize":44,"labelFontWeight":"bold","labelColor":"#000","labelLimit":1000,
"encode":{"symbols":{"update":{
"shape":[{"test":"indexof(datum.value,'rcp85')>=0","value":"M-0.054,0A0.054,0.054,0,1,1,0.054,0A0.054,0.054,0,1,1,-0.054,0Z"},{"test":"indexof(datum.value,'rcp26')>=0","value":"M-0.088,-0.088H0.088V0.088H-0.088ZM-0.061,-0.061V0.061H0.061V-0.061Z"},{"value":"stroke"}],
"fill":{"scale":"color","field":"value"},
"stroke":{"scale":"color","field":"value"},
"fillOpacity":[{"test":"indexof(datum.value,'rcp85')>=0 || indexof(datum.value,'rcp26')>=0","value":1},{"value":0}],
"strokeOpacity":[{"test":"indexof(datum.value,'rcp85')>=0 || indexof(datum.value,'rcp26')>=0","value":0},{"value":1}],
"strokeDash":[{"test":"indexof(datum.value,'rcp45')>=0","value":[26,26]},{"value":[1,0]}],
"opacity":{"value":1}}}}}}}},
{"data":{"name":"r2rcp45"},"mark":{"type":"line","strokeWidth":6,"strokeDash":[26,26]},"encoding":{"color":{"datum":"EC-EARTH r2 rcp45","type":"nominal"}}},
{"data":{"name":"r2rcp85"},"mark":{"type":"point","shape":"circle","filled":true,"size":81,"opacity":1},"encoding":{"color":{"datum":"EC-EARTH r2 rcp85","type":"nominal"}}},
{"data":{"name":"r9hist"},"mark":{"type":"line","strokeWidth":6},"encoding":{"color":{"datum":"EC-EARTH r9 hist","type":"nominal"}}},
{"data":{"name":"r9rcp45"},"mark":{"type":"line","strokeWidth":6,"strokeDash":[26,26]},"encoding":{"color":{"datum":"EC-EARTH r9 rcp45","type":"nominal"}}},
{"data":{"name":"r9rcp85"},"mark":{"type":"point","shape":"circle","filled":true,"size":81,"opacity":1},"encoding":{"color":{"datum":"EC-EARTH r9 rcp85","type":"nominal"}}},
{"data":{"name":"r12hist"},"mark":{"type":"line","strokeWidth":6},"encoding":{"color":{"datum":"EC-EARTH r12 hist","type":"nominal"}}},
{"data":{"name":"r12rcp45"},"mark":{"type":"line","strokeWidth":6,"strokeDash":[26,26]},"encoding":{"color":{"datum":"EC-EARTH r12 rcp45","type":"nominal"}}},
{"data":{"name":"r12rcp85"},"mark":{"type":"point","shape":"circle","filled":true,"size":81,"opacity":1},"encoding":{"color":{"datum":"EC-EARTH r12 rcp85","type":"nominal"}}},
{"data":{"name":"r12rcp26"},"mark":{"type":"point","shape":"square","filled":false,"size":72,"strokeWidth":2,"opacity":1},"encoding":{"color":{"datum":"EC-EARTH r12 rcp26","type":"nominal"}}},
{"data":{"name":"era40"},"mark":{"type":"line","strokeWidth":6},
"encoding":{
"x":{"field":"year","type":"quantitative","axis":{"orient":"top","values":[1850,1875,1900,1925,1950,1975,2000,2025,2050,2075,2100],"labels":false,"title":null}},
"y":{"field":"c","type":"quantitative","axis":{"orient":"right","values":[-1,0,1,2,3,4,5],"labels":false,"title":null}},
"color":{"datum":"ERA40","type":"nominal"}}}
],
"resolve":{"axis":{"x":"independent","y":"independent"}}
}
